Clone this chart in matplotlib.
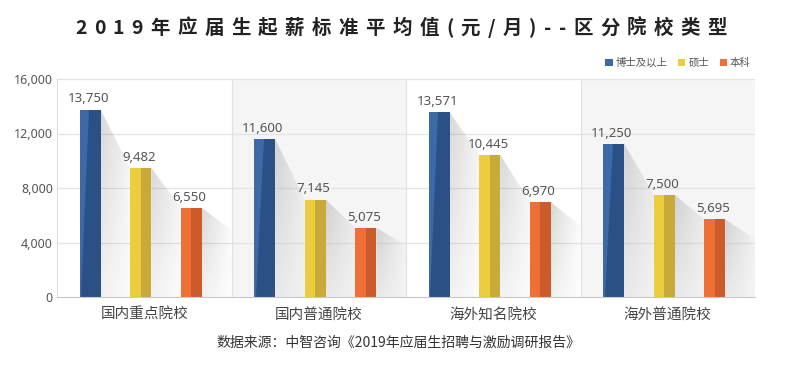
import numpy as np
import matplotlib
matplotlib.use("Agg")
import matplotlib.pyplot as plt
from matplotlib.patches import Patch, Polygon

plt.rcParams['font.family'] = ['Noto Sans CJK SC', 'DejaVu Sans']

# 数据
schools = ['国内重点院校', '国内普通院校', '海外知名院校', '海外普通院校']
degrees = ['博士及以上', '硕士', '本科']
phd = [13750, 11600, 13571, 11250]
master = [9482, 7145, 10445, 7500]
bachelor = [6550, 5075, 6970, 5695]
yticks = [0, 4000, 8000, 12000, 16000]

title = '2019年应届生起薪标准平均值(元/月)--区分院校类型'
source = '数据来源：中智咨询《2019年应届生招聘与激励调研报告》'

light = ['#3d6aa6', '#ebcd3e', '#ee7036']
dark = ['#2b5086', '#c8aa38', '#cc5a2a']

fig = plt.figure(figsize=(8, 3.67), dpi=100)
ax = fig.add_axes([57/800, 1-297/367, 698/800, 218/367])

series = [phd, master, bachelor]
offs = [-0.31, -0.02, 0.27]
w = 0.12

# 背景交替
for g in [1, 3]:
    ax.axvspan(g-0.5, g+0.5, color='#f5f5f5', zorder=0, lw=0)
for g in [0.5, 1.5, 2.5]:
    ax.axvline(g, color='#e2e2e2', lw=0.9, zorder=0.6)
for v in yticks[1:]:
    ax.axhline(v, color='#e3e3e3', lw=0.9, zorder=0.5)


def shadow(poly_pts, fade):
    poly = Polygon(poly_pts, closed=True, facecolor='none', edgecolor='none')
    ax.add_patch(poly)
    xs = [p[0] for p in poly_pts]
    ys = [p[1] for p in poly_pts]
    nx, ny = 60, 60
    xx, yy = np.meshgrid(np.linspace(0, 1, nx), np.linspace(0, 1, ny))
    alpha = 0.34 * (1 - fade*xx) * (0.35 + 0.65*yy)
    img = np.zeros((ny, nx, 4))
    img[..., :3] = 0.55
    img[..., 3] = alpha
    im = ax.imshow(img, extent=[min(xs), max(xs), min(ys), max(ys)],
                   origin='lower', aspect='auto', zorder=1, interpolation='bilinear')
    im.set_clip_path(poly)


for g in range(len(schools)):
    vals = [s[g] for s in series]
    for i in range(3):
        xc = g + offs[i]
        l, r = xc - w/2, xc + w/2
        h = vals[i]
        if i < 2:
            nl = g + offs[i+1] - w/2
            shadow([(r, h), (nl, vals[i+1]), (nl, 0), (r, 0)], 0.7)
        else:
            e = g + 0.5
            shadow([(r, h), (e, 0.75*h), (e, 0), (r, 0)], 0.9)
        # 柱子: 左亮右暗
        ax.fill([l, r, r, l], [0, 0, h, h], color=light[i], zorder=2, lw=0)
        if i == 0:
            ax.fill([xc-0.005, r, r, l+0.01], [h, h, 0, 0], color=dark[i], zorder=2.1, lw=0)
        else:
            ax.fill([xc, r, r, xc], [0, 0, h, h], color=dark[i], zorder=2.1, lw=0)
        ax.annotate(f'{h:,}', (xc-0.01, h), xytext=(0, 3), textcoords='offset points',
                    ha='center', va='bottom', fontsize=9.5, color='#555555', fontweight='medium',
                    family=['Noto Sans', 'DejaVu Sans'])

ax.set_xlim(-0.5, 3.5)
ax.set_ylim(0, 16000)
ax.set_yticks(yticks)
ax.set_yticklabels([f'{v:,}' for v in yticks], family=['Noto Sans', 'DejaVu Sans'])
ax.tick_params(axis='y', length=0, pad=3, labelsize=9, labelcolor='#555555')
ax.set_xticks(range(len(schools)))
ax.set_xticklabels(schools)
ax.tick_params(axis='x', length=0, pad=8, labelsize=10.5, labelcolor='#444444')
for s in ['top', 'right']:
    ax.spines[s].set_visible(False)
ax.spines['left'].set_color('#dddddd')
ax.spines['bottom'].set_color('#c8c8c8')
ax.set_facecolor('white')

# 图例
handles = [Patch(facecolor=c, edgecolor='none') for c in light]
fig.legend(handles, degrees, loc='center right', bbox_to_anchor=(756/800, 1-63/367),
           ncol=3, frameon=False, fontsize=7.5, handlelength=0.7, handleheight=0.7,
           handletextpad=0.3, columnspacing=1.0, labelcolor='#555555', borderpad=0)

# 标题: 逐字排版, 加字距
fig.canvas.draw()
rend = fig.canvas.get_renderer()
tp = dict(fontsize=14, fontweight='bold', color='#222222')
widths = []
for ch in title:
    t = fig.text(0, 0, ch, **tp)
    widths.append(t.get_window_extent(rend).width)
    t.remove()
x0, x1 = 75, 727
track = (x1 - x0 - sum(widths)) / (len(title) - 1)
x = x0
for ch, cw in zip(title, widths):
    fig.text(x/800, 1-28/367, ch, ha='left', va='center', **tp)
    x += cw + track

fig.text(398/800, 1-343/367, source, ha='center', va='center', fontsize=10, color='#333333')

fig.savefig('out.png', dpi=100)
